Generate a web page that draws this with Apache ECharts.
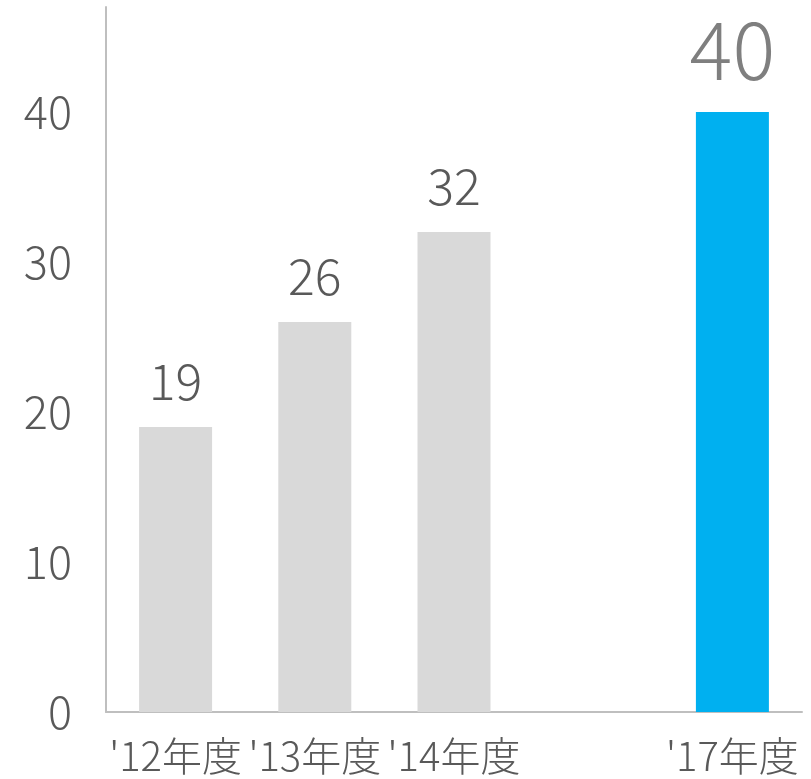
<!DOCTYPE html>
<html>
<head>
<meta charset="utf-8">
<style>
html,body{margin:0;padding:0;background:#fff;}
#chart{width:811px;height:779px;}
</style>
<script src="https://cdn.jsdelivr.net/npm/echarts@6/dist/echarts.min.js"></script>
</head>
<body>
<div id="chart"></div>
<script>
const categories = ["'12年度", "'13年度", "'14年度", "", "'17年度"];
const values = [19, 26, 32, null, 40];
const yTicks = [0, 10, 20, 30, 40];
const highlightIndex = 4;

const FONT = '"Noto Sans CJK JP", "Noto Sans", sans-serif';
const W = 300;
const chart = echarts.init(document.getElementById('chart'));
const seriesData = values.map((v, i) => {
  if (i === highlightIndex) {
    return {
      value: v,
      itemStyle: { color: '#00b0f0' },
      label: { fontSize: 80, color: '#7f7f7f', distance: 22 }
    };
  }
  return { value: v };
});
chart.setOption({
  animation: false,
  grid: { left: 106, right: 9, top: 7, bottom: 67 },
  xAxis: {
    type: 'category',
    data: categories,
    axisLine: { lineStyle: { color: '#bfbfbf', width: 2 } },
    axisTick: { show: false },
    axisLabel: { fontFamily: FONT, fontWeight: W, fontSize: 40, color: '#595959', margin: 24, interval: 0 }
  },
  yAxis: {
    type: 'value',
    min: 0,
    max: 47,
    interval: 10,
    axisLine: { show: true, lineStyle: { color: '#bfbfbf', width: 2 } },
    axisTick: { show: false },
    splitLine: { show: false },
    axisLabel: {
      fontFamily: FONT, fontWeight: W, fontSize: 45, color: '#595959', margin: 34,
      formatter: v => (yTicks.indexOf(v) >= 0 ? String(v) : '')
    }
  },
  series: [{
    type: 'bar',
    data: seriesData,
    barWidth: 73,
    itemStyle: { color: '#d9d9d9' },
    label: {
      show: true,
      position: 'top',
      distance: 21,
      fontFamily: FONT,
      fontWeight: W,
      fontSize: 50,
      color: '#595959'
    }
  }]
});
</script>
</body>
</html>
